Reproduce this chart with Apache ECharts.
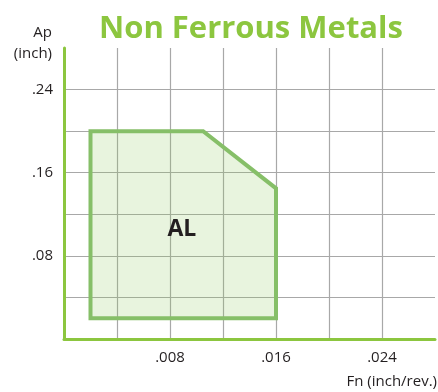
<!DOCTYPE html>
<html>
<head>
<meta charset="utf-8">
<script src="https://cdn.jsdelivr.net/npm/echarts@6/dist/echarts.min.js"></script>
<style>
  html, body { margin: 0; padding: 0; background: #fff; }
  #chart { width: 438px; height: 392px; }
</style>
</head>
<body>
<div id="chart"></div>
<script>
// operating window for AL, corners in (feed, depth of cut)
const regionName = 'AL'
const polyFeed = [0.002, 0.002, 0.0105, 0.016, 0.016]
const polyDepth = [0.02, 0.2, 0.2, 0.145, 0.02]
const labelPos = [0.0089, 0.105]

const xTicks = [0.008, 0.016, 0.024]
const yTicks = [0.08, 0.16, 0.24]

const green = '#8cc63f'
const ink = '#231f20'
const font = 'Open Sans'

const chart = echarts.init(document.getElementById('chart'))

const fmt = v => v.toFixed(3).replace(/^0/, '')
const showTick = (list, v) => list.some(t => Math.abs(t - v) < 1e-9)

chart.setOption({
  animation: false,
  title: {
    text: 'Non Ferrous Metals',
    left: 94,
    top: 9,
    textStyle: {
      fontFamily: font,
      fontSize: 31,
      fontWeight: 'bold',
      color: green
    }
  },
  graphic: [
    {
      type: 'text',
      x: 52,
      y: 25,
      style: {
        text: 'Ap',
        align: 'right',
        fontFamily: font,
        fontSize: 15,
        fill: ink
      }
    },
    {
      type: 'text',
      x: 52,
      y: 46,
      style: {
        text: '(inch)',
        align: 'right',
        fontFamily: font,
        fontSize: 15,
        fill: ink
      }
    },
    {
      type: 'text',
      x: 437,
      y: 374,
      style: {
        text: 'Fn (inch/rev.)',
        align: 'right',
        fontFamily: font,
        fontSize: 15,
        fill: ink
      }
    }
  ],
  grid: {
    left: 64,
    top: 48,
    right: 0,
    bottom: 53
  },
  xAxis: {
    type: 'value',
    min: 0,
    max: 0.028,
    interval: 0.004,
    axisLine: { show: true, lineStyle: { color: green, width: 3 } },
    axisTick: { show: false },
    axisLabel: {
      margin: 11,
      fontFamily: font,
      fontSize: 15,
      color: ink,
      formatter: v => showTick(xTicks, v) ? fmt(v) : ''
    },
    splitLine: {
      show: true,
      showMaxLine: false,
      lineStyle: { color: '#a8a8a8', width: 1.2 }
    }
  },
  yAxis: {
    type: 'value',
    min: 0,
    max: 0.28,
    interval: 0.04,
    axisLine: { show: true, lineStyle: { color: green, width: 3 } },
    axisTick: { show: false },
    axisLabel: {
      margin: 11,
      fontFamily: font,
      fontSize: 15,
      color: ink,
      formatter: v => showTick(yTicks, v) ? fmt(v).replace(/0$/, '') : ''
    },
    splitLine: {
      show: true,
      showMaxLine: false,
      lineStyle: { color: '#a8a8a8', width: 1.2 }
    }
  },
  series: [
    {
      type: 'custom',
      coordinateSystem: 'cartesian2d',
      data: [labelPos],
      renderItem: (params, api) => {
        const points = polyFeed.map((x, i) => api.coord([x, polyDepth[i]]))
        const c = api.coord(labelPos)
        return {
          type: 'group',
          children: [
            {
              type: 'polygon',
              shape: { points },
              style: {
                fill: 'rgba(141, 198, 90, 0.2)',
                stroke: '#86bf68',
                lineWidth: 4,
                lineJoin: 'miter'
              }
            },
            {
              type: 'text',
              x: c[0],
              y: c[1],
              style: {
                text: regionName,
                align: 'center',
                verticalAlign: 'middle',
                fontFamily: font,
                fontSize: 23,
                fontWeight: 'bold',
                fill: ink
              }
            }
          ]
        }
      },
      z: 3
    }
  ]
})
</script>
</body>
</html>
